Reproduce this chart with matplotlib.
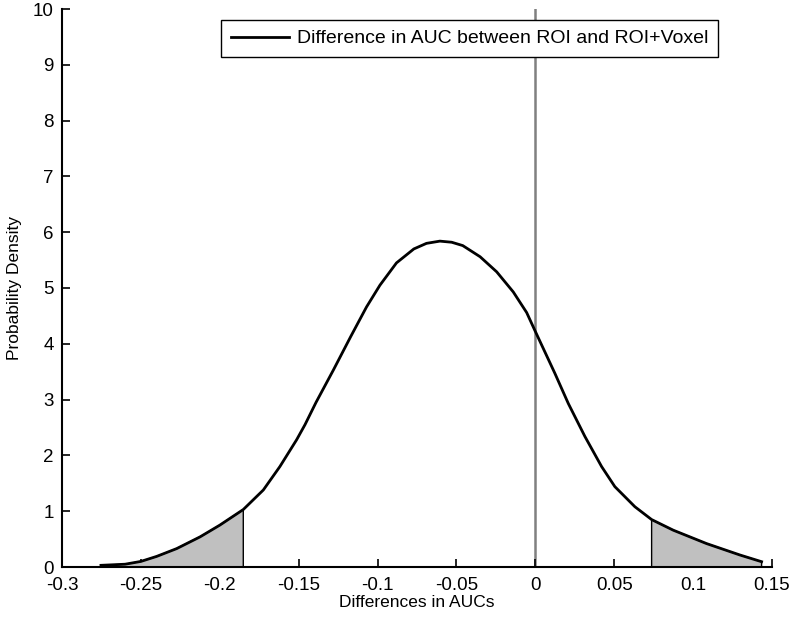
import numpy as np
import matplotlib
matplotlib.use("Agg")
import matplotlib.pyplot as plt

plt.rcParams['font.family'] = ['Liberation Sans', 'DejaVu Sans']

# Curve
x_vals = [-0.2753, -0.260, -0.250, -0.240, -0.2273, -0.2125, -0.200, -0.1851, -0.1724,
          -0.1619, -0.1513, -0.146, -0.139, -0.128, -0.117, -0.107, -0.0985, -0.088,
          -0.077, -0.069, -0.0605, -0.053, -0.046, -0.035, -0.0245, -0.014, -0.0055,
          -0.0003, 0.0124, 0.0209, 0.0314, 0.042, 0.0504, 0.0631,
          0.0737, 0.0874, 0.1085, 0.1297, 0.1434]
y_vals = [0.03, 0.05, 0.10, 0.19, 0.33, 0.54, 0.75, 1.03, 1.38,
          1.80, 2.28, 2.55, 2.95, 3.53, 4.13, 4.66, 5.05, 5.45,
          5.70, 5.80, 5.84, 5.82, 5.76, 5.56, 5.29, 4.93, 4.56,
          4.24, 3.47, 2.93, 2.34, 1.80, 1.44, 1.08,
          0.85, 0.66, 0.42, 0.215, 0.095]
left_cut = -0.1851
right_cut = 0.0737
legend_label = "Difference in AUC between ROI and ROI+Voxel"
x_ticks = [-0.3, -0.25, -0.2, -0.15, -0.1, -0.05, 0, 0.05, 0.1, 0.15]
x_ticklabels = ["-0.3", "-0.25", "-0.2", "-0.15", "-0.1", "-0.05", "0", "0.05", "0.1", "0.15"]
y_ticks = list(range(0, 11))

x = np.array(x_vals)
y = np.array(y_vals)

fig = plt.figure(figsize=(7.9, 6.2), dpi=100)
ax = fig.add_axes([62/790, 53/620, 710/790, 558/620])

# shaded tails
ml = x <= left_cut + 1e-9
xl = np.concatenate([[x[ml][0]], x[ml], [left_cut]])
yl = np.concatenate([[0], y[ml], [0]])
ax.fill(xl, yl, facecolor='#c0c0c0', edgecolor='black', linewidth=1.0, zorder=2)

mr = x >= right_cut - 1e-9
xr = np.concatenate([[right_cut], x[mr], [x[mr][-1]]])
yr = np.concatenate([[0], y[mr], [0]])
ax.fill(xr, yr, facecolor='#c0c0c0', edgecolor='black', linewidth=1.0, zorder=2)

ax.plot(x, y, color='black', linewidth=2.0, label=legend_label, zorder=3,
        solid_joinstyle='round')
ax.plot([0, 0], [0, 10], color='#808080', linewidth=1.8, zorder=1)

ax.set_xlim(-0.3, 0.15)
ax.set_ylim(0, 10)
ax.set_xticks(x_ticks)
ax.set_xticklabels(x_ticklabels)
ax.set_yticks(y_ticks)
ax.tick_params(direction='in', length=6, width=1.2, labelsize=13.5)
ax.tick_params(axis='x', pad=7)
ax.tick_params(axis='y', pad=6)
for s in ['top', 'right']:
    ax.spines[s].set_visible(False)
for s in ['left', 'bottom']:
    ax.spines[s].set_linewidth(1.5)

ax.set_xlabel("Differences in AUCs", fontsize=12.5, labelpad=1)
ax.set_ylabel("Probability Density", fontsize=12.5, labelpad=8)

leg = ax.legend(loc='upper right', bbox_to_anchor=(0.924, 0.980), borderaxespad=0,
                fancybox=False, edgecolor='black', framealpha=1, fontsize=14,
                handlelength=3.0, handletextpad=0.4, borderpad=0.5)
leg.get_frame().set_linewidth(1.0)
leg.set_zorder(5)

fig.savefig("out.png", dpi=100)
